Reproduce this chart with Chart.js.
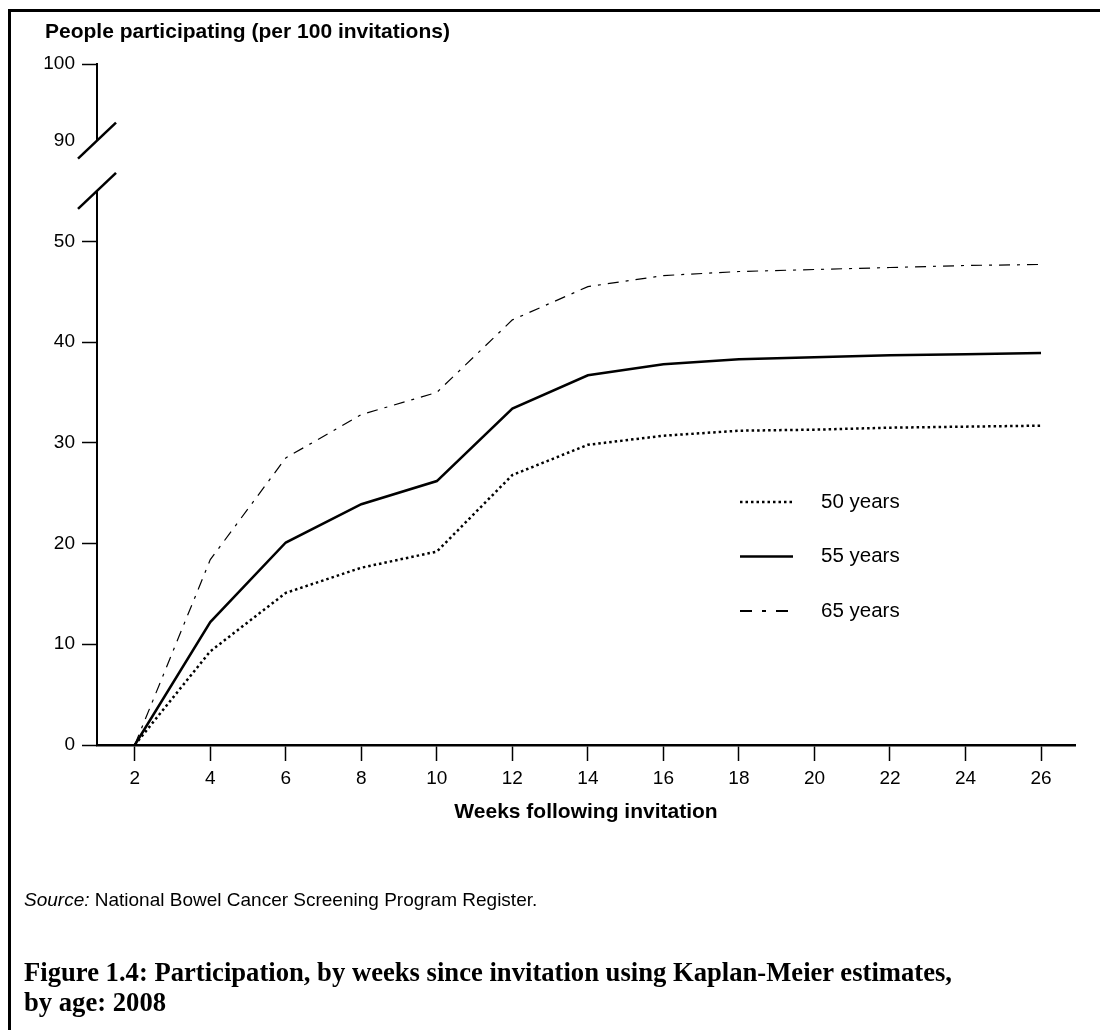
<!DOCTYPE html>
<html>
<head>
<meta charset="utf-8">
<script src="https://cdn.jsdelivr.net/npm/chart.js@4.4.0/dist/chart.umd.min.js"></script>
<style>
  html, body { margin: 0; padding: 0; background: #fff; }
  #page { position: relative; width: 1100px; height: 1030px; overflow: hidden; font-family: "Liberation Sans", Arial, sans-serif; color: #000; }
  #frameTop { position: absolute; left: 8px; top: 9px; width: 1092px; height: 3px; background: #000; }
  #frameLeft { position: absolute; left: 8px; top: 9px; width: 3px; height: 1021px; background: #000; }
  canvas { position: absolute; left: 0; top: 0; }
  #source { position: absolute; left: 24px; top: 889px; font-size: 19px; white-space: nowrap; }
  #caption { position: absolute; left: 24px; top: 957px; font-family: "Liberation Serif", serif; font-weight: bold; font-size: 27px; line-height: 30px; white-space: nowrap; transform-origin: left top; }
</style>
</head>
<body>
<div id="page">
  <canvas id="chart" width="1100" height="1030"></canvas>
  <div id="frameTop"></div>
  <div id="frameLeft"></div>
  <div id="source"><i>Source:</i> National Bowel Cancer Screening Program Register.</div>
  <div id="caption"><span id="cap1">Figure 1.4: Participation, by weeks since invitation using Kaplan-Meier estimates,</span><br>by age: 2008</div>
</div>
<script>
const weeks = [2, 4, 6, 8, 10, 12, 14, 16, 18, 20, 22, 24, 26];
const age50 = [0, 9.3, 15.1, 17.6, 19.2, 26.8, 29.8, 30.7, 31.2, 31.3, 31.5, 31.6, 31.7];
const age55 = [0, 12.2, 20.1, 23.9, 26.2, 33.4, 36.7, 37.8, 38.3, 38.5, 38.7, 38.8, 38.9];
const age65 = [0, 18.4, 28.5, 32.8, 35.0, 42.2, 45.5, 46.6, 47.0, 47.2, 47.4, 47.6, 47.7];
const seriesLabels = ['50 years', '55 years', '65 years'];
const yTicks = [0, 10, 20, 30, 40, 50];
const breakLabels = ['90', '100'];

// the axis is broken above 50: 90 and 100 sit on fake positions
const Y_TOP = 67.6;
const BREAK_POS = [60, Y_TOP];
const FONT = '"Liberation Sans", Arial, sans-serif';

const styles = [
    { borderWidth: 2.5, borderDash: [2.5, 3] },
    { borderWidth: 2.5, borderDash: [] },
    { borderWidth: 1.2, borderDash: [11, 7, 3, 7] }
];

const brokenAxis = {
    id: 'brokenAxis',
    afterDraw(chart) {
        const ctx = chart.ctx;
        const y = chart.scales.y;
        const x0 = chart.chartArea.left;
        ctx.save();
        ctx.strokeStyle = '#000';
        ctx.lineWidth = 2;
        // lower part of the axis, then upper part
        ctx.beginPath();
        ctx.moveTo(x0, y.getPixelForValue(0));
        ctx.lineTo(x0, y.getPixelForValue(55));
        ctx.moveTo(x0, y.getPixelForValue(60));
        ctx.lineTo(x0, y.getPixelForValue(Y_TOP) - 1);
        ctx.stroke();
        // break marks
        ctx.lineWidth = 2.5;
        [55, 60].forEach(v => {
            const py = y.getPixelForValue(v);
            ctx.beginPath();
            ctx.moveTo(x0 - 19, py + 18);
            ctx.lineTo(x0 + 19, py - 18);
            ctx.stroke();
        });

        // y title
        ctx.fillStyle = '#000';
        ctx.font = 'bold 21px ' + FONT;
        ctx.textBaseline = 'alphabetic';
        ctx.textAlign = 'left';
        ctx.fillText('People participating (per 100 invitations)', 45, 38);

        // legend
        ctx.font = '20.5px ' + FONT;
        ctx.textBaseline = 'middle';
        chart.data.datasets.forEach((ds, i) => {
            const ly = 502 + i * 54.5;
            ctx.beginPath();
            ctx.lineWidth = i === 2 ? 2 : ds.borderWidth;
            ctx.setLineDash(i === 2 ? [12, 10, 4, 10] : ds.borderDash);
            ctx.moveTo(740, ly);
            ctx.lineTo(793, ly);
            ctx.stroke();
            ctx.setLineDash([]);
            ctx.fillText(ds.label, 821, ly);
        });
        ctx.restore();
    }
};

const series = [age50, age55, age65];

new Chart(document.getElementById('chart'), {
    type: 'line',
    data: {
        datasets: series.map((vals, i) => ({
            label: seriesLabels[i],
            data: weeks.map((w, j) => ({ x: w, y: vals[j] })),
            borderColor: '#000',
            borderWidth: styles[i].borderWidth,
            borderDash: styles[i].borderDash,
            pointRadius: 0,
            tension: 0,
            fill: false,
            clip: false
        }))
    },
    options: {
        responsive: false,
        animation: false,
        devicePixelRatio: 1,
        layout: { padding: { left: 0, top: 64, right: 25, bottom: 195 } },
        plugins: { legend: { display: false }, tooltip: { enabled: false } },
        scales: {
            x: {
                type: 'linear',
                min: 1,
                max: 26.9,
                afterBuildTicks: s => { s.ticks = weeks.map(v => ({ value: v })); },
                afterFit: s => { s.height = 90; },
                border: { display: true, color: '#000', width: 2.5 },
                grid: { drawOnChartArea: false, drawTicks: true, tickLength: 16, tickColor: '#000', tickWidth: 1.5 },
                ticks: { color: '#000', font: { size: 19, family: FONT }, padding: 6, maxRotation: 0, autoSkip: false },
                title: {
                    display: true,
                    text: 'Weeks following invitation',
                    color: '#000',
                    font: { size: 21, weight: 'bold', family: FONT },
                    padding: { top: 0, bottom: 10 }
                }
            },
            y: {
                type: 'linear',
                min: 0,
                max: Y_TOP,
                afterBuildTicks: s => { s.ticks = yTicks.concat(BREAK_POS).map(v => ({ value: v })); },
                afterFit: s => { s.width = 97; },
                border: { display: false },
                grid: {
                    drawOnChartArea: false,
                    tickLength: 15,
                    tickWidth: 1.5,
                    tickColor: c => (c.tick && c.tick.value === BREAK_POS[0]) ? 'rgba(0,0,0,0)' : '#000'
                },
                ticks: {
                    color: '#000',
                    font: { size: 19, family: FONT },
                    padding: 7,
                    autoSkip: false,
                    callback: v => {
                        const k = BREAK_POS.indexOf(v);
                        return k >= 0 ? breakLabels[k] : String(v);
                    }
                }
            }
        }
    },
    plugins: [brokenAxis]
});

// caption: book-style serif squeezed to the width it has in the figure
const cap1 = document.getElementById('cap1');
const w = cap1.getBoundingClientRect().width;
document.getElementById('caption').style.transform = 'scaleX(' + (928 / w) + ')';
</script>
</body>
</html>
